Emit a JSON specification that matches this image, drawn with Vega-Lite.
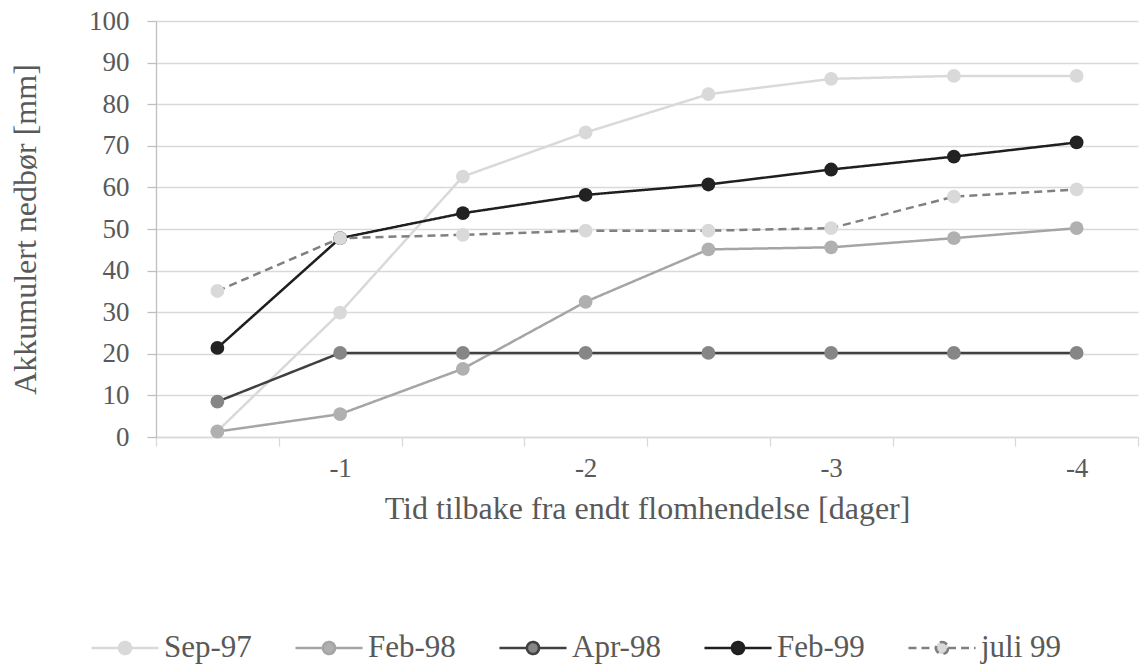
{
  "$schema": "https://vega.github.io/schema/vega-lite/v6.json",
  "width": 982,
  "height": 416,
  "autosize": {"type": "none"},
  "padding": {"left": 156, "top": 21, "right": 3, "bottom": 227},
  "background": "white",
  "config": {
    "font": "Liberation Serif",
    "view": {"stroke": null},
    "axis": {
      "labelFont": "Liberation Serif",
      "titleFont": "Liberation Serif",
      "labelColor": "#595959",
      "titleColor": "#595959",
      "titleFontWeight": "normal",
      "gridColor": "#D9D9D9",
      "gridWidth": 1.3
    },
    "legend": {
      "labelFont": "Liberation Serif",
      "labelColor": "#595959",
      "labelFontSize": 31,
      "labelOffset": 4,
      "columnPadding": 38,
      "symbolType": "M-1,0H-0.18M0.18,0H1M0.18,0A0.18,0.18 0 1,1 -0.18,0A0.18,0.18 0 1,1 0.18,0Z",
      "symbolSize": 4500,
      "symbolStrokeWidth": 2.5
    }
  },
  "data": {
    "values": [
      {"serie": "Sep-97", "tid": "-0.5", "mm": 1.4},
      {"serie": "Sep-97", "tid": "-1", "mm": 29.9},
      {"serie": "Sep-97", "tid": "-1.5", "mm": 62.6},
      {"serie": "Sep-97", "tid": "-2", "mm": 73.2},
      {"serie": "Sep-97", "tid": "-2.5", "mm": 82.4},
      {"serie": "Sep-97", "tid": "-3", "mm": 86.1},
      {"serie": "Sep-97", "tid": "-3.5", "mm": 86.8},
      {"serie": "Sep-97", "tid": "-4", "mm": 86.8},
      {"serie": "Feb-98", "tid": "-0.5", "mm": 1.3},
      {"serie": "Feb-98", "tid": "-1", "mm": 5.5},
      {"serie": "Feb-98", "tid": "-1.5", "mm": 16.4},
      {"serie": "Feb-98", "tid": "-2", "mm": 32.5},
      {"serie": "Feb-98", "tid": "-2.5", "mm": 45.1},
      {"serie": "Feb-98", "tid": "-3", "mm": 45.6},
      {"serie": "Feb-98", "tid": "-3.5", "mm": 47.8},
      {"serie": "Feb-98", "tid": "-4", "mm": 50.2},
      {"serie": "Apr-98", "tid": "-0.5", "mm": 8.5},
      {"serie": "Apr-98", "tid": "-1", "mm": 20.2},
      {"serie": "Apr-98", "tid": "-1.5", "mm": 20.2},
      {"serie": "Apr-98", "tid": "-2", "mm": 20.2},
      {"serie": "Apr-98", "tid": "-2.5", "mm": 20.2},
      {"serie": "Apr-98", "tid": "-3", "mm": 20.2},
      {"serie": "Apr-98", "tid": "-3.5", "mm": 20.2},
      {"serie": "Apr-98", "tid": "-4", "mm": 20.2},
      {"serie": "Feb-99", "tid": "-0.5", "mm": 21.4},
      {"serie": "Feb-99", "tid": "-1", "mm": 47.8},
      {"serie": "Feb-99", "tid": "-1.5", "mm": 53.8},
      {"serie": "Feb-99", "tid": "-2", "mm": 58.2},
      {"serie": "Feb-99", "tid": "-2.5", "mm": 60.7},
      {"serie": "Feb-99", "tid": "-3", "mm": 64.3},
      {"serie": "Feb-99", "tid": "-3.5", "mm": 67.4},
      {"serie": "Feb-99", "tid": "-4", "mm": 70.8},
      {"serie": "juli 99", "tid": "-0.5", "mm": 35.1},
      {"serie": "juli 99", "tid": "-1", "mm": 47.8},
      {"serie": "juli 99", "tid": "-1.5", "mm": 48.6},
      {"serie": "juli 99", "tid": "-2", "mm": 49.6},
      {"serie": "juli 99", "tid": "-2.5", "mm": 49.6},
      {"serie": "juli 99", "tid": "-3", "mm": 50.2},
      {"serie": "juli 99", "tid": "-3.5", "mm": 57.8},
      {"serie": "juli 99", "tid": "-4", "mm": 59.5}
    ]
  },
  "encoding": {
    "x": {
      "field": "tid",
      "type": "ordinal",
      "sort": ["-0.5", "-1", "-1.5", "-2", "-2.5", "-3", "-3.5", "-4"],
      "scale": {"type": "band", "paddingInner": 0, "paddingOuter": 0},
      "axis": {
        "title": "Tid tilbake fra endt flomhendelse [dager]",
        "labelExpr": "(datum.value === '-1' || datum.value === '-2' || datum.value === '-3' || datum.value === '-4') ? datum.value : ''",
        "labelAngle": 0,
        "labelFontSize": 27,
        "labelPadding": 9,
        "titleFontSize": 32,
        "titlePadding": 12,
        "tickBand": "extent",
        "tickSize": 9,
        "tickColor": "#D9D9D9",
        "tickWidth": 1.3,
        "domainColor": "#D9D9D9",
        "domainWidth": 1.3,
        "grid": false
      }
    },
    "y": {
      "field": "mm",
      "type": "quantitative",
      "scale": {"domain": [0, 100], "nice": false},
      "axis": {
        "title": "Akkumulert nedbør [mm]",
        "values": [0, 10, 20, 30, 40, 50, 60, 70, 80, 90, 100],
        "labelFontSize": 27,
        "labelPadding": 18,
        "titleFontSize": 32,
        "titlePadding": 46,
        "tickSize": 9,
        "tickColor": "#BFBFBF",
        "tickWidth": 1.3,
        "domainColor": "#BFBFBF",
        "domainWidth": 1.3,
        "grid": true
      }
    }
  },
  "layer": [
    {
      "mark": {"type": "line", "strokeWidth": 2.5},
      "encoding": {
        "stroke": {
          "field": "serie",
          "type": "nominal",
          "scale": {
            "domain": ["Sep-97", "Feb-98", "Apr-98", "Feb-99", "juli 99"],
            "range": ["#D9D9D9", "#A5A5A5", "#404040", "#1F1F1F", "#808080"]
          },
          "legend": {
            "orient": "none",
            "direction": "horizontal",
            "legendX": -66,
            "legendY": 592,
            "title": null,
            "encode": {
              "symbols": {
                "update": {
                  "fill": {"scale": "fill", "field": "value"},
                  "strokeDash": {"scale": "strokeDash", "field": "value"}
                }
              }
            }
          }
        },
        "strokeDash": {
          "field": "serie",
          "type": "nominal",
          "scale": {
            "domain": ["Sep-97", "Feb-98", "Apr-98", "Feb-99", "juli 99"],
            "range": [[1, 0], [1, 0], [1, 0], [1, 0], [8, 5]]
          },
          "legend": null
        }
      }
    },
    {
      "mark": {"type": "point", "filled": true, "size": 190, "opacity": 1},
      "encoding": {
        "fill": {
          "field": "serie",
          "type": "nominal",
          "scale": {
            "domain": ["Sep-97", "Feb-98", "Apr-98", "Feb-99", "juli 99"],
            "range": ["#D9D9D9", "#B0B0B0", "#868686", "#222222", "#D9D9D9"]
          },
          "legend": null
        }
      }
    }
  ]
}
